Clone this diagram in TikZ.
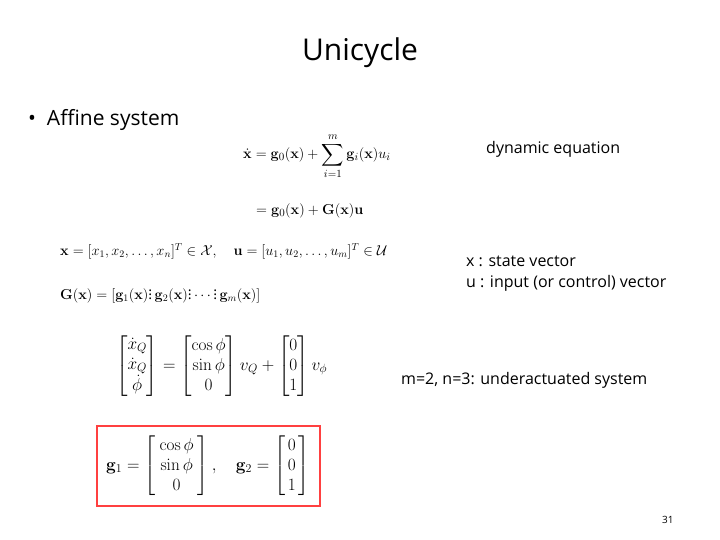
\documentclass[tikz,border=0pt]{standalone}
\usepackage{amsmath,amssymb}
\usepackage[no-math]{fontspec}
\setmainfont{Open Sans}
\begin{document}
\begin{tikzpicture}[x=1pt,y=-1pt,
  txt/.style={inner sep=0pt,anchor=west,font=\fontsize{16}{19}\selectfont},
  eq/.style={inner sep=0pt,anchor=west,font=\fontsize{15.5}{18}\selectfont}]
\useasboundingbox (0,0) rectangle (720,540);
\node[inner sep=0pt,font=\fontsize{30}{36}\selectfont] (title) at (360,53) {Unicycle};
\node[txt,font=\fontsize{21}{25}\selectfont] (bul) at (28,120) {\textbullet\ \ Affine system};
\node[eq] (e1) at (243,156) {$\dot{\mathbf{x}} = \mathbf{g}_0(\mathbf{x}) + \displaystyle\sum_{i=1}^{m}\mathbf{g}_i(\mathbf{x})u_i$};
\node[eq] (e2) at (256,211) {$= \mathbf{g}_0(\mathbf{x}) + \mathbf{G}(\mathbf{x})\mathbf{u}$};
\node[eq,font=\fontsize{14.5}{17}\selectfont] (e3) at (60,251) {$\mathbf{x} = [x_1, x_2, \ldots, x_n]^T \in \mathcal{X},\quad \mathbf{u} = [u_1, u_2, \ldots, u_m]^T \in \mathcal{U}$};
\node[eq,font=\fontsize{14.5}{17}\selectfont] (e4) at (60,293) {$\mathbf{G}(\mathbf{x}) = [\mathbf{g}_1(\mathbf{x}) \vdots\, \mathbf{g}_2(\mathbf{x}) \vdots \cdots \vdots\, \mathbf{g}_m(\mathbf{x})]$};
\node[eq,font=\fontsize{17}{20}\selectfont] (e5) at (116,366) {$\begin{bmatrix}\dot x_Q\\ \dot x_Q\\ \dot\phi\end{bmatrix} = \begin{bmatrix}\cos\phi\\ \sin\phi\\ 0\end{bmatrix} v_Q + \begin{bmatrix}0\\0\\1\end{bmatrix} v_\phi$};
\node[draw=red!75!white,line width=1.2pt,minimum width=223,minimum height=80,inner sep=0pt] (box) at (208.5,466) {};
\node[eq,font=\fontsize{16.5}{20}\selectfont] (e6) at (106,466) {$\mathbf{g}_1 = \begin{bmatrix}\ \cos\phi\ \\ \sin\phi\\ 0\end{bmatrix}, \quad \mathbf{g}_2 = \begin{bmatrix}\,0\,\\0\\1\end{bmatrix}$};
\node[txt] (t1) at (486,149) {dynamic equation};
\node[txt] (t2) at (466,261) {x : state vector};
\node[txt] (t3) at (466,283) {u : input (or control) vector};
\node[txt] (t4) at (401,380) {m=2, n=3: underactuated system};
\node[txt,font=\fontsize{10}{12}\selectfont] (pg) at (662,520) {31};
\end{tikzpicture}
\end{document}
